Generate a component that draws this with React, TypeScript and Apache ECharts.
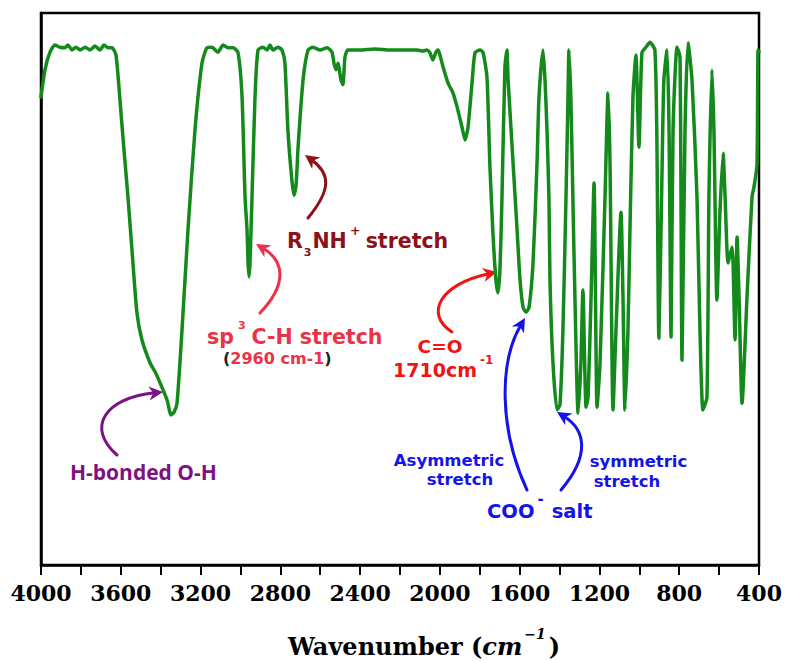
import React, { useEffect, useRef } from 'react';
import * as echarts from 'echarts';

// IR spectrum (wavenumber in cm-1, transmittance in %)
const wavenumbers = [
  4000, 3980, 3955, 3930, 3905, 3880, 3865, 3845, 3825, 3804,
  3779, 3754, 3729, 3704, 3684, 3664, 3644, 3624, 3604, 3584,
  3564, 3539, 3519, 3494, 3453, 3428, 3403, 3368, 3348, 3333,
  3318, 3293, 3263, 3228, 3193, 3168, 3143, 3113, 3087, 3062,
  3037, 3012, 2992, 2977, 2967, 2962, 2957, 2952, 2942, 2927,
  2912, 2887, 2867, 2852, 2837, 2812, 2792, 2777, 2762, 2742,
  2731, 2721, 2711, 2686, 2661, 2636, 2601, 2566, 2541, 2531,
  2521, 2511, 2496, 2486, 2476, 2461, 2401, 2325, 2250, 2175,
  2115, 2085, 2065, 2050, 2035, 2020, 2010, 1984, 1959, 1934,
  1914, 1889, 1874, 1859, 1839, 1824, 1799, 1784, 1764, 1749,
  1734, 1719, 1709, 1699, 1689, 1674, 1664, 1658, 1633, 1613,
  1598, 1583, 1568, 1553, 1533, 1513, 1503, 1483, 1473, 1463,
  1453, 1448, 1433, 1413, 1398, 1383, 1368, 1358, 1353, 1343,
  1333, 1323, 1307, 1293, 1283, 1267, 1257, 1242, 1227, 1212,
  1197, 1172, 1157, 1147, 1132, 1117, 1092, 1082, 1072, 1057,
  1047, 1032, 1017, 1002, 987, 967, 947, 922, 912, 902,
  887, 877, 861, 851, 841, 831, 811, 796, 786, 771,
  756, 736, 711, 696, 681, 661, 651, 636, 626, 611,
  596, 580, 570, 555, 535, 530, 520, 510, 500, 485,
  460, 435, 425, 410, 405, 400,
];

const transmittance = [
  84.8, 89.7, 92.9, 94.2, 93.8, 93.7, 94.2, 93.3, 93.8, 93.3,
  93.8, 93.3, 94.0, 93.3, 94.2, 93.7, 93.7, 92.4, 84.2, 75.2,
  66.7, 54.7, 45.7, 40.8, 36.6, 35.0, 33.0, 29.9, 27.2, 27.7,
  29.3, 42.6, 60.7, 78.8, 90.9, 93.7, 93.8, 92.9, 94.2, 93.7,
  93.7, 92.8, 84.8, 66.7, 60.7, 54.9, 52.2, 54.9, 66.7, 84.8,
  93.3, 93.8, 93.3, 94.2, 93.3, 93.8, 93.3, 90.9, 78.8, 69.7,
  67.0, 68.8, 75.7, 87.9, 93.3, 93.8, 93.3, 93.7, 92.9, 90.9,
  89.7, 90.9, 87.9, 87.0, 92.0, 93.3, 93.3, 93.5, 93.3, 93.3,
  93.3, 93.1, 93.3, 92.8, 91.5, 92.9, 93.3, 90.2, 87.3, 85.5,
  83.0, 79.3, 77.0, 79.3, 87.3, 92.8, 93.3, 92.9, 88.4, 72.1,
  60.1, 51.6, 49.3, 53.3, 66.1, 90.2, 93.3, 87.9, 72.8, 60.7,
  51.6, 46.7, 45.8, 46.7, 54.7, 72.8, 84.8, 93.3, 87.9, 78.8,
  66.1, 51.6, 36.6, 28.1, 29.0, 42.6, 66.1, 84.2, 93.3, 84.2,
  66.1, 48.6, 27.5, 36.6, 49.8, 28.6, 30.4, 48.6, 69.2, 28.6,
  36.6, 66.7, 85.5, 72.8, 28.1, 42.6, 63.9, 48.6, 28.1, 42.6,
  60.7, 84.8, 92.4, 75.7, 92.8, 93.8, 94.7, 93.3, 77.0, 41.1,
  69.7, 87.9, 93.3, 78.8, 41.3, 78.8, 93.8, 92.0, 37.1, 78.8,
  94.6, 87.9, 66.7, 42.6, 28.1, 30.4, 66.7, 89.7, 78.8, 48.0,
  63.8, 74.6, 66.7, 54.7, 57.6, 54.7, 40.8, 59.4, 48.6, 29.3,
  48.6, 66.7, 68.5, 72.5, 93.3, 93.0,
];

const tickLabels = [4000, 3600, 3200, 2800, 2400, 2000, 1600, 1200, 800, 400];

const axisTitle = ['Wavenumber (', 'cm', '−1', ')'];

const measureCtx = document.createElement('canvas').getContext('2d') as CanvasRenderingContext2D;
function measure(text: string, font: string) {
  measureCtx.font = font;
  return measureCtx.measureText(text).width;
}

type Seg = {
  text: string;
  size?: number;
  family?: string;
  weight?: string;
  fstyle?: string;
  color?: string;
  dy?: number;
  gap?: number;
};

function buildRun(segs: Seg[], base: Seg) {
  let cx = 0;
  const out: any[] = [];
  for (const s0 of segs) {
    const s = { ...base, ...s0 };
    cx += s0.gap || 0;
    const font = `${s.fstyle || 'normal'} ${s.weight || 'bold'} ${s.size}px ${s.family}`;
    out.push({ s, x: cx });
    cx += measure(s.text, font);
  }
  return { items: out, width: cx };
}

function runText(x: number, y: number, segs: Seg[], base: Seg, center = false) {
  const { items, width } = buildRun(segs, base);
  const x0 = center ? x - width / 2 : x;
  return items.map(({ s, x: ox }) => ({
    type: 'text',
    x: x0 + ox,
    y: y + (s.dy || 0),
    silent: true,
    style: {
      text: s.text,
      fill: s.color,
      fontSize: s.size,
      fontFamily: s.family,
      fontWeight: s.weight || 'bold',
      fontStyle: s.fstyle || 'normal',
      align: 'left',
      verticalAlign: 'middle',
    },
  }));
}

function arrow(p0: number[], c1: number[], c2: number[], tip: number[], color: string, w = 3) {
  const dx = tip[0] - c2[0];
  const dy = tip[1] - c2[1];
  const L = Math.hypot(dx, dy);
  const ux = dx / L;
  const uy = dy / L;
  const hl = 14;
  const hw = 7;
  const bx = tip[0] - ux * hl;
  const by = tip[1] - uy * hl;
  const ex = tip[0] - ux * hl * 0.6;
  const ey = tip[1] - uy * hl * 0.6;
  return [
    {
      type: 'bezierCurve',
      silent: true,
      shape: { x1: p0[0], y1: p0[1], cpx1: c1[0], cpy1: c1[1], cpx2: c2[0], cpy2: c2[1], x2: ex, y2: ey },
      style: { stroke: color, lineWidth: w, fill: 'none', lineCap: 'round' },
    },
    {
      type: 'polygon',
      silent: true,
      shape: { points: [[tip[0], tip[1]], [bx - uy * hw, by + ux * hw], [tip[0] - ux * hl * 0.7, tip[1] - uy * hl * 0.7], [bx + uy * hw, by - ux * hw]] },
      style: { fill: color },
    },
  ];
}

const PURPLE = '#7d1383';
const PINK_RED = '#ec3249';
const DARK_RED = '#8c1119';
const RED = '#f01414';
const BLUE = '#1414e6';
const SANS = 'DejaVu Sans';

export default function App() {
  const ref = useRef<HTMLDivElement>(null);

  useEffect(() => {
    if (!ref.current) return;
    const chart = echarts.init(ref.current, undefined, { renderer: 'svg' });

    const data = wavenumbers.map((w, i) => [w, transmittance[i]]);

    const graphics: any[] = [
      // H-bonded O-H
      ...runText(70, 472, [{ text: 'H-bonded O-H' }], { text: '', size: 21, family: 'Open Sans', color: PURPLE }),
      ...arrow([117, 455], [86, 428], [104, 398], [163, 392], PURPLE),

      // sp3 C-H stretch
      ...runText(207, 337, [
        { text: 'sp' },
        { text: '3', size: 11, dy: -12, gap: 4 },
        { text: 'C-H stretch', gap: 6 },
      ], { text: '', size: 20.5, family: SANS, color: PINK_RED }),
      ...runText(223, 358, [
        { text: '(', color: '#222222' },
        { text: '2960 cm-1' },
        { text: ')', color: '#222222' },
      ], { text: '', size: 16, family: SANS, color: PINK_RED }),
      ...arrow([260, 313], [286, 286], [286, 262], [256, 244], PINK_RED),

      // R3NH+ stretch
      ...runText(287, 240.5, [
        { text: 'R' },
        { text: '3', size: 11, dy: 12, gap: 1 },
        { text: 'NH', gap: 1 },
        { text: '+', size: 13, dy: -10, gap: 3 },
        { text: 'stretch', gap: 5 },
      ], { text: '', size: 20.5, family: SANS, color: DARK_RED }),
      ...arrow([308, 218], [331, 190], [331, 174], [305, 155], DARK_RED),

      // C=O 1710
      ...runText(440, 346.5, [{ text: 'C=O' }], { text: '', size: 18.5, family: SANS, color: RED }, true),
      ...runText(393, 370, [
        { text: '1710cm' },
        { text: '-1', size: 12, dy: -10, gap: 3 },
      ], { text: '', size: 19, family: SANS, color: RED }),
      ...arrow([452, 332], [424, 314], [440, 284], [497, 272], RED),

      // COO- salt
      ...runText(449, 460.5, [{ text: 'Asymmetric' }], { text: '', size: 16.5, family: SANS, color: BLUE }, true),
      ...runText(460, 479.5, [{ text: 'stretch' }], { text: '', size: 16.5, family: SANS, color: BLUE }, true),
      ...runText(638.5, 461.5, [{ text: 'symmetric' }], { text: '', size: 16.5, family: SANS, color: BLUE }, true),
      ...runText(627, 481, [{ text: 'stretch' }], { text: '', size: 16.5, family: SANS, color: BLUE }, true),
      ...runText(487, 511.5, [
        { text: 'COO' },
        { text: '-', size: 15, dy: -13, gap: 3 },
        { text: 'salt', gap: 8 },
      ], { text: '', size: 19.5, family: SANS, color: BLUE }),
      ...arrow([527, 490], [499, 430], [499, 362], [525, 318], BLUE),
      ...arrow([561, 490], [590, 456], [586, 430], [557, 412], BLUE),

      // axis title
      ...runText(288, 646, [
        { text: axisTitle[0] },
        { text: axisTitle[1], fstyle: 'italic' },
        { text: axisTitle[2], fstyle: 'italic', size: 14, dy: -12, gap: 2 },
        { text: axisTitle[3], gap: 3 },
      ], { text: '', size: 24, family: 'DejaVu Serif', color: '#000000' }),
    ];

    chart.setOption({
      animation: false,
      backgroundColor: '#ffffff',
      grid: {
        left: 41,
        right: 28,
        top: 13,
        bottom: 96,
        show: true,
        borderColor: '#000000',
        borderWidth: 2.5,
        backgroundColor: 'transparent',
      },
      xAxis: {
        type: 'value',
        min: 400,
        max: 4000,
        interval: 200,
        inverse: true,
        splitLine: { show: false },
        axisLine: { show: true, lineStyle: { color: '#000000', width: 2.5 } },
        axisTick: { show: true, inside: false, length: 10, lineStyle: { color: '#000000', width: 2 } },
        axisLabel: {
          margin: 17,
          color: '#000000',
          fontFamily: 'DejaVu Serif',
          fontWeight: 'bold',
          fontSize: 22,
          formatter: (v: number) => (tickLabels.includes(v) ? String(v) : ''),
        },
      },
      yAxis: {
        type: 'value',
        min: 0,
        max: 100,
        splitLine: { show: false },
        axisLine: { show: true, lineStyle: { color: '#000000', width: 2.5 } },
        axisTick: { show: false },
        axisLabel: { show: false },
      },
      series: [
        {
          type: 'line',
          data,
          showSymbol: false,
          smooth: 0.2,
          clip: true,
          lineStyle: { color: '#138a1b', width: 3.5, join: 'round', cap: 'round' },
        },
      ],
      graphic: graphics,
    });

    return () => chart.dispose();
  }, []);

  return (
    <div
      ref={ref}
      style={{ position: 'absolute', left: 0, top: 0, width: 787, height: 661, background: '#ffffff' }}
    />
  );
}
